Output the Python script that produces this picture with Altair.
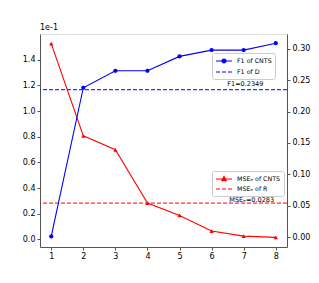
import altair as alt
import pandas as pd

iters = [1, 2, 3, 4, 5, 6, 7, 8]
f1_cnts = [0.001, 0.238, 0.265, 0.265, 0.288, 0.298, 0.298, 0.309]
f1_d = 0.2349
mse_cnts = [0.1525, 0.0807, 0.0698, 0.0283, 0.0187, 0.0065, 0.0026, 0.0016]
mse_r = 0.0283
f1_labels = ["F1 of CNTS", "F1 of D"]
mse_labels = ["MSEₑ of CNTS", "MSEₑ of R"]
f1_note = "F1=0.2349"
mse_note = "MSEₑ=0.0283"
f1_note_x = 7.05
mse_note_x = 7.25
x_ticks = [1, 2, 3, 4, 5, 6, 7, 8]
left_ticks = [0.0, 0.02, 0.04, 0.06, 0.08, 0.10, 0.12, 0.14]
right_ticks = [0.0, 0.05, 0.10, 0.15, 0.20, 0.25, 0.30]

FONT = "DejaVu Sans"
BLUE = "#0000ff"
RED = "#ff0000"

df_f1 = pd.DataFrame({"iter": iters, "val": f1_cnts, "series": f1_labels[0]})
df_mse = pd.DataFrame({"iter": iters, "val": mse_cnts, "series": mse_labels[0]})
df_f1_ref = pd.DataFrame({"val": [f1_d], "iter": [f1_note_x], "note": [f1_note]})
df_mse_ref = pd.DataFrame({"val": [mse_r], "iter": [mse_note_x], "note": [mse_note]})

xenc = alt.X("iter:Q", title=None,
             scale=alt.Scale(domain=[0.65, 8.35], nice=False, zero=False),
             axis=alt.Axis(values=x_ticks, format="d", grid=False, tickSize=3,
                           labelFontSize=8, labelFont=FONT, labelColor="black",
                           labelOverlap=False,
                           domainColor="#555", tickColor="#555", labelPadding=2))

yleft_scale = alt.Scale(domain=[-0.0059, 0.1600], nice=False, zero=False)
yright_scale = alt.Scale(domain=[-0.0159, 0.3237], nice=False, zero=False)
yleft_axis = alt.Axis(orient="left", values=left_ticks, grid=False, tickSize=3,
                      labelExpr="format(datum.value*10, '.1f')",
                      labelFontSize=8, labelFont=FONT, labelColor="black",
                      domainColor="#555", tickColor="#555", labelPadding=2)
yright_axis = alt.Axis(orient="right", values=right_ticks, format=".2f", grid=False,
                       tickSize=3, labelFontSize=8, labelFont=FONT, labelColor="black",
                       domainColor="#555", tickColor="#555", labelPadding=2)

path_dot = "M-1,0H3M0.5,0A0.5,0.5,0,1,1,1.5,0A0.5,0.5,0,1,1,0.5,0Z"
path_dash = "M-1,0H0M0.5,0H1.5M2,0H3"
path_tri = "M-1,0H3M1,-0.6L1.55,0.4L0.45,0.4Z"


def make_legend(x, y):
    return alt.Legend(title=None, orient="none", legendX=x, legendY=y,
                      labelFont=FONT, labelFontSize=6.3, labelColor="black",
                      symbolSize=64, symbolStrokeWidth=1.2,
                      symbolOpacity=1, labelOffset=12, rowPadding=1,
                      strokeColor="#cccccc", fillColor="white", padding=3,
                      cornerRadius=2)


# --- red (MSE) group, left axis
yl = alt.Y("val:Q", title=None, scale=yleft_scale, axis=yleft_axis)
red_line = alt.Chart(df_mse).mark_line(color=RED, strokeWidth=1.1).encode(x=xenc, y=yl)
red_pts = alt.Chart(df_mse).mark_point(shape="triangle-up", filled=True, color=RED,
                                       size=18, opacity=1).encode(x=xenc, y=yl)
red_rule = alt.Chart(df_mse_ref).mark_rule(color=RED, strokeDash=[4, 2],
                                           strokeWidth=1).encode(y=yl)
red_text = alt.Chart(df_mse_ref).mark_text(font=FONT, fontSize=6.5, baseline="alphabetic",
                                           dy=-1, color="black").encode(
    x=xenc, y=yl, text="note:N")
mse_leg = make_legend(172, 137)
red_dummy = alt.Chart(df_mse).mark_point(filled=False, fill=RED, opacity=0).encode(
    x=xenc, y=yl,
    color=alt.Color("series:N", scale=alt.Scale(domain=mse_labels, range=[RED, RED]),
                    legend=mse_leg),
    shape=alt.Shape("series:N", scale=alt.Scale(domain=mse_labels, range=[path_tri, path_dash]),
                    legend=mse_leg))
red_group = alt.layer(red_line, red_rule, red_text, red_pts, red_dummy)

# --- blue (F1) group, right axis
yr = alt.Y("val:Q", title=None, scale=yright_scale, axis=yright_axis)
blue_line = alt.Chart(df_f1).mark_line(color=BLUE, strokeWidth=1.1).encode(x=xenc, y=yr)
blue_pts = alt.Chart(df_f1).mark_point(shape="circle", filled=True, color=BLUE,
                                       size=18, opacity=1).encode(x=xenc, y=yr)
blue_rule = alt.Chart(df_f1_ref).mark_rule(color=BLUE, strokeDash=[4, 2],
                                           strokeWidth=1).encode(y=yr)
blue_text = alt.Chart(df_f1_ref).mark_text(font=FONT, fontSize=6.5, baseline="alphabetic",
                                           dy=-4, color="black").encode(
    x=xenc, y=yr, text="note:N")
f1_leg = make_legend(172, 19)
blue_dummy = alt.Chart(df_f1).mark_point(filled=False, fill=BLUE, opacity=0).encode(
    x=xenc, y=yr,
    color=alt.Color("series:N", scale=alt.Scale(domain=f1_labels, range=[BLUE, BLUE]),
                    legend=f1_leg),
    shape=alt.Shape("series:N", scale=alt.Scale(domain=f1_labels, range=[path_dot, path_dash]),
                    legend=f1_leg))
blue_group = alt.layer(blue_line, blue_rule, blue_text, blue_pts, blue_dummy)

chart = alt.layer(red_group, blue_group).resolve_scale(
    y="independent", color="independent", shape="independent"
).properties(
    width=247, height=213,
    title=alt.Title("1e-1", anchor="start", frame="group", fontSize=8, fontWeight="normal",
                    font=FONT, color="black", offset=2),
    autosize=alt.AutoSizeParams(type="none"),
    padding={"left": 32, "top": 26, "right": 24, "bottom": 20},
).configure_view(stroke="#666", strokeWidth=1).configure(background="white")

chart.save("out.html", embed_options={"renderer": "svg", "actions": False})
